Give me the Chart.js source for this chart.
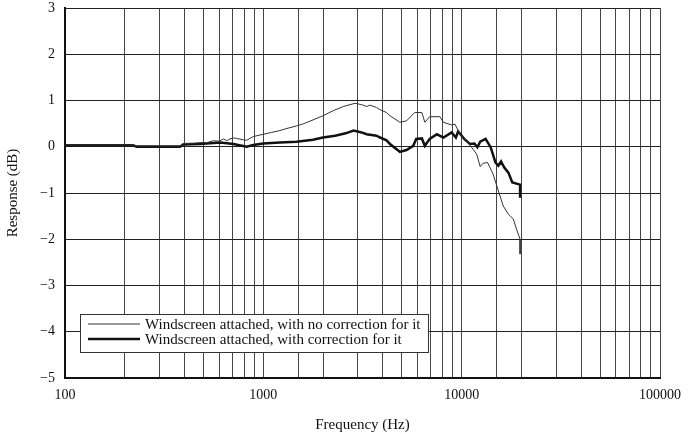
<!DOCTYPE html>
<html>
<head>
<meta charset="utf-8">
<script src="https://cdn.jsdelivr.net/npm/chart.js@4.4.0/dist/chart.umd.min.js"></script>
<style>
  html, body { margin: 0; padding: 0; background: #fff; }
  #wrap { width: 696px; height: 434px; }
</style>
</head>
<body>
<div id="wrap"><canvas id="chart" width="696" height="434"></canvas></div>
<script>
// Windscreen attached, with no correction for it
const freqNoCorr = [100, 150, 220, 230, 300, 380, 395, 450, 480, 520, 560, 600, 630, 654, 680, 707, 734, 794, 824, 890,
  1000, 1100, 1212, 1300, 1470, 1600, 1780, 2000, 2250, 2530, 2900, 3130, 3320, 3450, 3720, 3880, 4180, 4350, 4880, 5270,
  5800, 6300, 6520, 6900, 7770, 8080, 8900, 9250, 9800, 10600, 11400, 11900, 12400, 12800, 13500, 14400, 15300, 16200,
  17200, 18200, 18900, 19700, 19700];
const respNoCorr = [0.04, 0.04, 0.04, 0.02, 0.02, 0.02, 0.07, 0.08, 0.09, 0.09, 0.13, 0.12, 0.17, 0.13, 0.17, 0.19, 0.18, 0.15, 0.14, 0.22,
  0.27, 0.31, 0.35, 0.39, 0.45, 0.50, 0.58, 0.67, 0.78, 0.87, 0.94, 0.91, 0.87, 0.90, 0.85, 0.80, 0.74, 0.67, 0.53, 0.56,
  0.74, 0.74, 0.53, 0.65, 0.65, 0.53, 0.47, 0.49, 0.27, 0.13, -0.05, -0.16, -0.43, -0.36, -0.34, -0.59, -0.95, -1.28,
  -1.46, -1.56, -1.78, -2.0, -2.32];

// Windscreen attached, with correction for it
const freqCorr = [100, 220, 230, 380, 395, 480, 606, 707, 824, 890, 1000, 1212, 1470, 1780, 2000, 2300, 2600, 2850,
  3130, 3320, 3720, 3880, 4180, 4350, 4880, 5270, 5700, 5900, 6300, 6520, 6900, 7500, 8100, 8900, 9350, 9600,
  10300, 11000, 11600, 12000, 12400, 13200, 14000, 14800, 15300, 15800, 16400, 17200, 18000, 19700, 19700];
const respCorr = [0.03, 0.03, 0.0, 0.0, 0.05, 0.06, 0.09, 0.06, 0.0, 0.04, 0.07, 0.09, 0.11, 0.15, 0.20, 0.24, 0.29, 0.35,
  0.31, 0.27, 0.24, 0.20, 0.14, 0.06, -0.11, -0.07, 0.02, 0.17, 0.18, 0.02, 0.17, 0.27, 0.20, 0.31, 0.20, 0.33,
  0.17, 0.06, 0.07, -0.01, 0.11, 0.17, -0.01, -0.34, -0.41, -0.32, -0.45, -0.56, -0.77, -0.82, -1.10];

const seriesLabels = ['Windscreen attached, with no correction for it', 'Windscreen attached, with correction for it'];
const xTickLabels = [100, 1000, 10000, 100000];

const toPoints = (xs, ys) => xs.map((f, i) => ({ x: f, y: ys[i] }));

const serif = '"Liberation Serif", "Times New Roman", serif';

// legend box drawn inside the plot area
const boxLegend = {
  id: 'boxLegend',
  afterDraw(chart) {
    const ctx = chart.ctx;
    const area = chart.chartArea;
    const x0 = area.left + 15, y0 = area.bottom - 64, w = 348, h = 38;
    ctx.save();
    ctx.fillStyle = '#fff';
    ctx.fillRect(x0, y0, w, h);
    ctx.strokeStyle = '#333';
    ctx.lineWidth = 1;
    ctx.strokeRect(x0 + 0.5, y0 + 0.5, w, h);
    ctx.font = '15px ' + serif;
    ctx.textBaseline = 'middle';
    chart.data.datasets.forEach((ds, i) => {
      const yy = y0 + 10 + i * 15;
      ctx.strokeStyle = ds.borderColor;
      ctx.lineWidth = ds.borderWidth;
      ctx.beginPath();
      ctx.moveTo(x0 + 8, yy);
      ctx.lineTo(x0 + 60, yy);
      ctx.stroke();
      ctx.fillStyle = '#111';
      ctx.fillText(ds.label, x0 + 65, yy + 1);
    });
    ctx.restore();
  }
};

new Chart(document.getElementById('chart'), {
  type: 'line',
  data: {
    datasets: [
      {
        label: seriesLabels[0],
        data: toPoints(freqNoCorr, respNoCorr),
        borderColor: '#333',
        borderWidth: 1,
        pointRadius: 0,
        tension: 0,
        fill: false,
      },
      {
        label: seriesLabels[1],
        data: toPoints(freqCorr, respCorr),
        borderColor: '#111',
        borderWidth: 2.5,
        pointRadius: 0,
        tension: 0,
        fill: false,
      },
    ],
  },
  options: {
    responsive: false,
    animation: false,
    layout: { padding: { top: 8, right: 36, left: 0, bottom: 0 } },
    plugins: {
      legend: { display: false },
      tooltip: { enabled: false },
    },
    scales: {
      x: {
        type: 'logarithmic',
        min: 100,
        max: 100000,
        border: { color: '#111', width: 2 },
        grid: { color: '#444', lineWidth: 1, drawTicks: false },
        ticks: {
          color: '#111',
          font: { family: serif, size: 14 },
          padding: 9,
          autoSkip: false,
          maxRotation: 0,
          callback: (v) => (xTickLabels.includes(v) ? String(v) : ''),
        },
        title: {
          display: true,
          text: 'Frequency (Hz)',
          color: '#111',
          font: { family: serif, size: 15 },
          padding: { top: 8, bottom: 0 },
        },
        afterFit: (s) => { s.height = 56; },
      },
      y: {
        min: -5,
        max: 3,
        border: { color: '#111', width: 2 },
        grid: { color: '#222', lineWidth: 1, drawTicks: false },
        ticks: {
          stepSize: 1,
          color: '#111',
          font: { family: serif, size: 14 },
          padding: 10,
          callback: (v) => String(v).replace('-', '\u2212'),
        },
        title: {
          display: true,
          text: 'Response (dB)',
          color: '#111',
          font: { family: serif, size: 15 },
          padding: { top: 4, bottom: 8 },
        },
        afterFit: (s) => { s.width = 65; s.paddingTop = 0; s.paddingBottom = 0; },
      },
    },
  },
  plugins: [boxLegend],
});
</script>
</body>
</html>
